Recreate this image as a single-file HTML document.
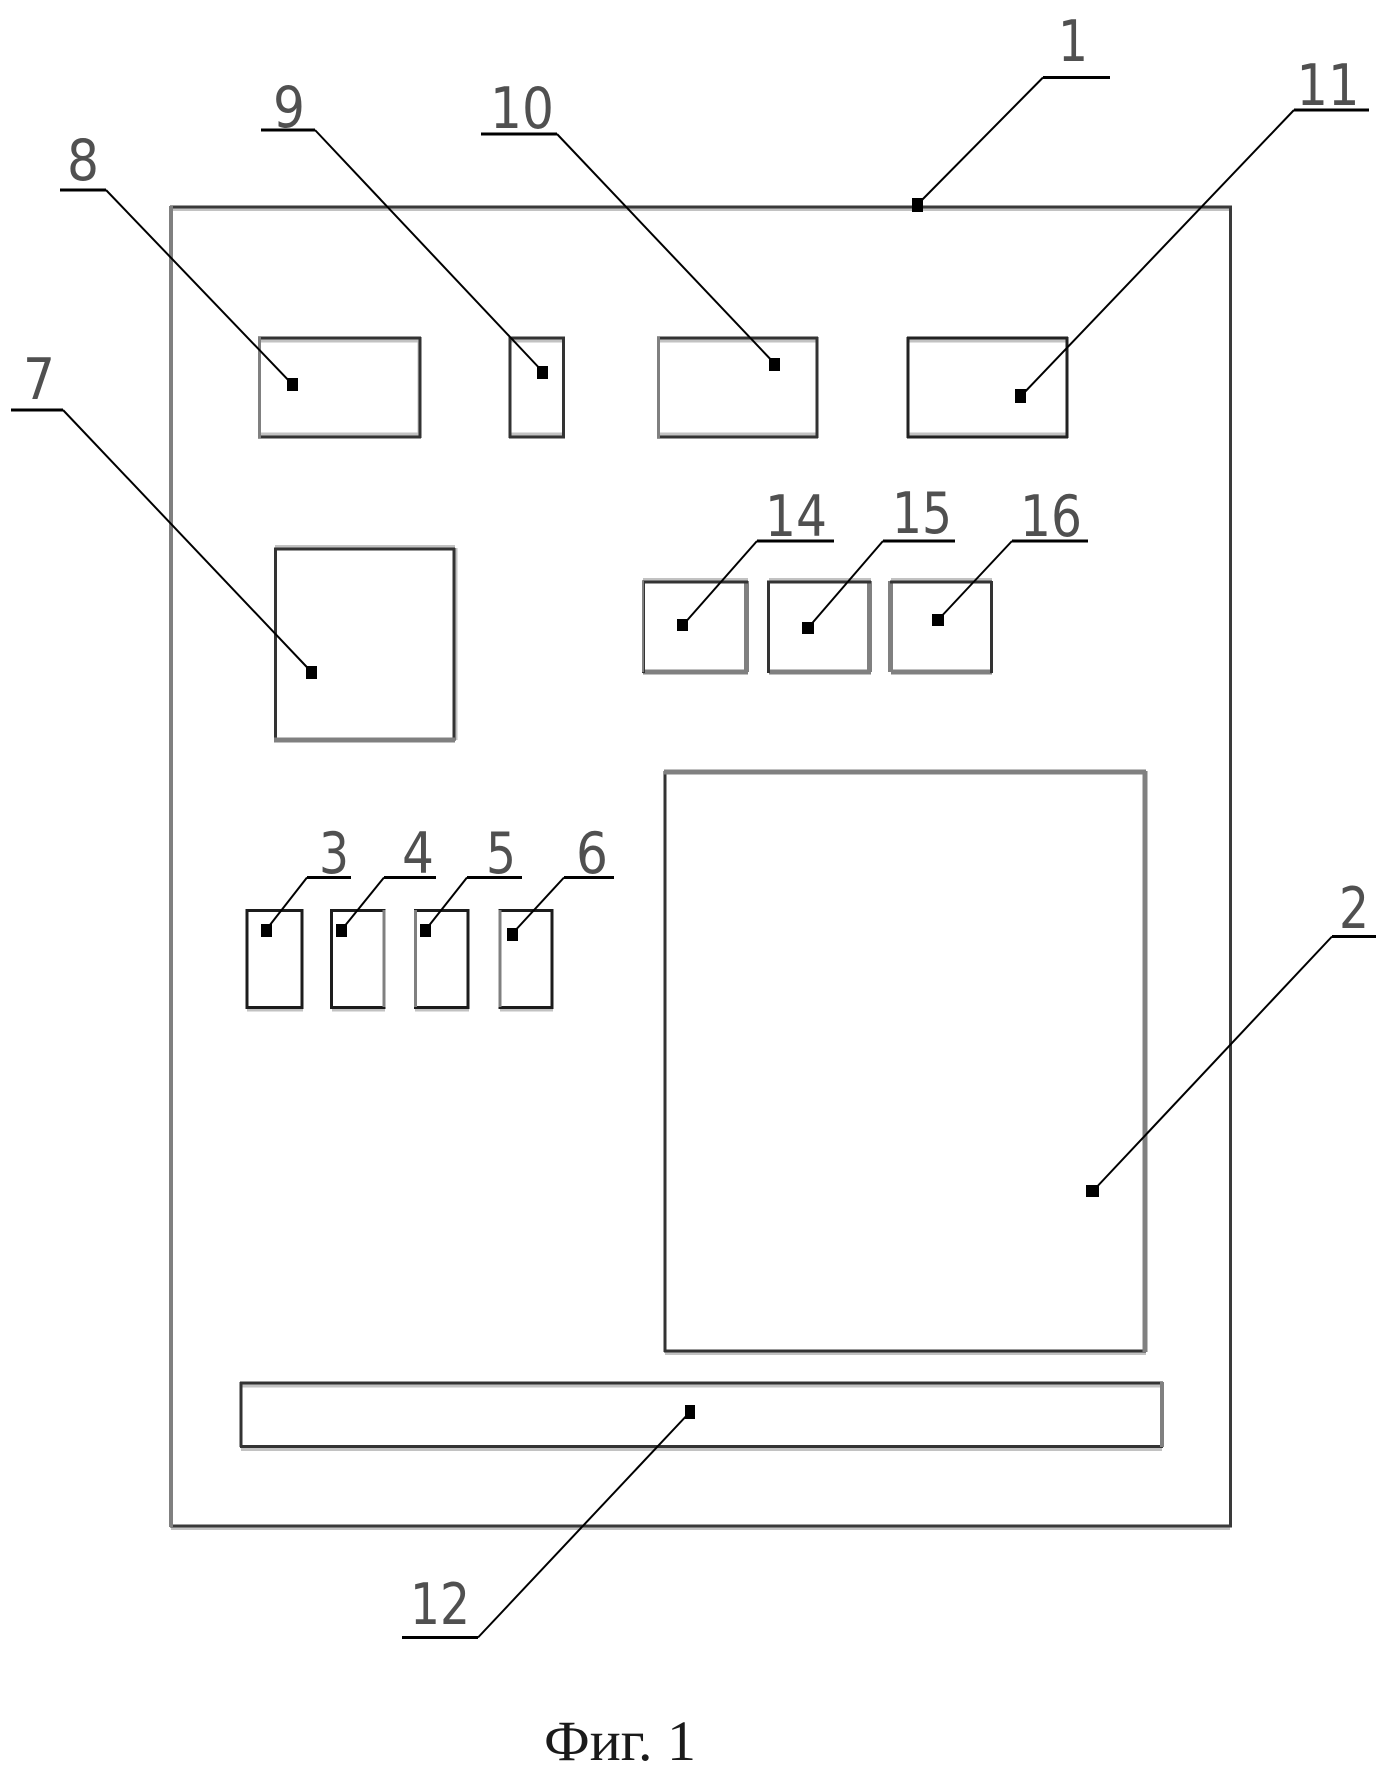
<!DOCTYPE html>
<html>
<head>
<meta charset="utf-8">
<style>
html,body{margin:0;padding:0;background:#fff}
svg{display:block}
.n{font-family:"DejaVu Sans",sans-serif;font-size:57px;fill:#505050;text-anchor:middle}
.f{font-family:"Liberation Serif",serif;font-size:57px;fill:#1a1a1a}
.d{stroke:#333;stroke-width:3;fill:none}
.m{stroke:#808080;stroke-width:4;fill:none}
.t{stroke:#c2c2c2;stroke-width:3;fill:none}
.u{stroke:#000;stroke-width:3;fill:none}
.l{stroke:#000;stroke-width:2;fill:none}
</style>
</head>
<body>
<svg width="1396" height="1784" viewBox="0 0 1396 1784" xmlns="http://www.w3.org/2000/svg">
<rect width="1396" height="1784" fill="#fff"/>

<!-- Outer box 1 -->
<path class="t" d="M171 209.500H1230M171 1528.500H1230"/>
<path class="d" d="M170 207H1232M170 1526H1232M1230.500 206V1527" style="stroke:#3a3a3a"/>
<path class="m" d="M171 206V1527"/>

<!-- Top row -->
<path class="t" d="M259 341H420M259 434H420M419 340V435"/>
<path class="d" d="M258 338H421M258 437H421M420 337V438"/>
<path class="m" d="M259.500 337V438" style="stroke-width:3"/>
<path class="t" d="M510 341H564M510 434H564"/>
<path class="d" d="M509 338H565M509 437H565M510 337V438M563.500 337V438"/>
<path class="t" d="M658 341H817M658 434H817"/>
<path class="d" d="M657 338H818M657 437H818M817 337V438"/>
<path class="m" d="M658.500 337V438" style="stroke-width:3"/>
<path class="t" d="M908 341H1067M908 434H1067"/>
<path class="d" d="M907 338H1068M907 437H1068M908 337V438M1067 337V438" style="stroke:#222"/>

<!-- Box 7 -->
<path class="t" d="M275 546.500H455M456 548V740"/>
<path class="d" d="M274 549H455M454 548V741M275.500 548V741"/>
<path class="m" d="M274 740H455" style="stroke-width:5"/>

<!-- Boxes 14, 15, 16 -->
<path class="m" d="M643 672H748M746.500 581V672M769 672H871M869.500 581V672M891 672H992M890.500 581V672" style="stroke-width:5"/>
<path class="t" d="M643 579.500H748M769 579.500H871M891 579.500H992"/>
<path class="d" d="M642 582H748M643.500 581V673M767 582H871M768.500 581V673M890 582H992M991.500 581V673"/>
<path class="m" d="M643 581V672" style="stroke-width:2"/>

<!-- Box 2 -->
<path class="t" d="M665 1353.500H1146"/>
<path class="d" d="M664 1351H1146M665 771V1352"/>
<path class="m" d="M664 772H1146M1145 771V1352" style="stroke-width:5"/>

<!-- Boxes 3-6 -->
<path class="t" d="M247 1010H303M332 1010H385M415 1010H469M500 1010H553"/>
<path class="d" d="M247 910.500H302V1007.500H247ZM331.500 910.500H384V1007.500H331.500ZM415.500 910.500H468V1007.500H415.500ZM500 910.500H552V1007.500H500Z" style="stroke:#1c1c1c"/>
<path class="m" d="M384 910V1007M500 910V1007M415.500 910V1007" style="stroke-width:3"/>

<!-- Box 12 -->
<path class="t" d="M241 1386H1162M241 1449.500H1162"/>
<path class="d" d="M240 1383H1163M240 1446.500H1163M241 1382V1447"/>
<path class="m" d="M1162 1382V1447"/>

<!-- Leaders -->
<path class="u" d="M1043 77.500H1110"/><path class="l" d="M1043 77.500L917 205"/>
<path class="u" d="M1294 110H1369"/><path class="l" d="M1294 110L1021 396"/>
<path class="u" d="M60 190H106"/><path class="l" d="M106 190L292.500 384.500"/>
<path class="u" d="M261 130H315"/><path class="l" d="M315 130L543 372"/>
<path class="u" d="M481 134H557"/><path class="l" d="M557 134L775 364"/>
<path class="u" d="M11 410H63"/><path class="l" d="M63 410L312 672.500"/>
<path class="u" d="M757 541H834"/><path class="l" d="M757 541L683 625"/>
<path class="u" d="M883 541H955"/><path class="l" d="M883 541L808 628"/>
<path class="u" d="M1012 541H1088"/><path class="l" d="M1012 541L938 620"/>
<path class="u" d="M307 877.500H351"/><path class="l" d="M307 877.500L266 930"/>
<path class="u" d="M384 877.500H436"/><path class="l" d="M384 877.500L341.500 930"/>
<path class="u" d="M467 877.500H522"/><path class="l" d="M467 877.500L425.500 930"/>
<path class="u" d="M564 877.500H614"/><path class="l" d="M564 877.500L512 934"/>
<path class="u" d="M1332 936.500H1376"/><path class="l" d="M1332 936.500L1092.500 1191.500"/>
<path class="u" d="M402 1637.500H478"/><path class="l" d="M478 1637.500L690 1412"/>

<!-- Dots -->
<g fill="#000">
<rect x="912" y="198" width="11" height="14"/>
<rect x="1015" y="389" width="11" height="14"/>
<rect x="287" y="378" width="11" height="13"/>
<rect x="537" y="366" width="11" height="13"/>
<rect x="769" y="358" width="11" height="13"/>
<rect x="306" y="666" width="11" height="13"/>
<rect x="677" y="619" width="11" height="12"/>
<rect x="802" y="622" width="12" height="12"/>
<rect x="932" y="614" width="12" height="12"/>
<rect x="261" y="924" width="11" height="13"/>
<rect x="336" y="924" width="11" height="13"/>
<rect x="420" y="924" width="11" height="13"/>
<rect x="507" y="928" width="11" height="13"/>
<rect x="1086" y="1185" width="13" height="12"/>
<rect x="685" y="1405" width="10" height="14"/>
</g>

<!-- Labels -->
<text class="n" x="1073" y="61" textLength="30" lengthAdjust="spacingAndGlyphs">1</text>
<text class="n" x="1328" y="105" textLength="63" lengthAdjust="spacingAndGlyphs">11</text>
<text class="n" x="83" y="180" textLength="32" lengthAdjust="spacingAndGlyphs">8</text>
<text class="n" x="289" y="127" textLength="32" lengthAdjust="spacingAndGlyphs">9</text>
<text class="n" x="522" y="128" textLength="64" lengthAdjust="spacingAndGlyphs">10</text>
<text class="n" x="39" y="399" textLength="32" lengthAdjust="spacingAndGlyphs">7</text>
<text class="n" x="796" y="536" textLength="62" lengthAdjust="spacingAndGlyphs">14</text>
<text class="n" x="922" y="533" textLength="60" lengthAdjust="spacingAndGlyphs">15</text>
<text class="n" x="1051" y="536" textLength="62" lengthAdjust="spacingAndGlyphs">16</text>
<text class="n" x="334" y="873" textLength="30" lengthAdjust="spacingAndGlyphs">3</text>
<text class="n" x="418" y="873" textLength="32" lengthAdjust="spacingAndGlyphs">4</text>
<text class="n" x="501" y="873" textLength="30" lengthAdjust="spacingAndGlyphs">5</text>
<text class="n" x="592" y="873" textLength="32" lengthAdjust="spacingAndGlyphs">6</text>
<text class="n" x="1354" y="928" textLength="30" lengthAdjust="spacingAndGlyphs">2</text>
<text class="n" x="440" y="1624" textLength="60" lengthAdjust="spacingAndGlyphs">12</text>
<text class="f" x="544" y="1760" textLength="152" lengthAdjust="spacingAndGlyphs">Фиг. 1</text>
</svg>
</body>
</html>
